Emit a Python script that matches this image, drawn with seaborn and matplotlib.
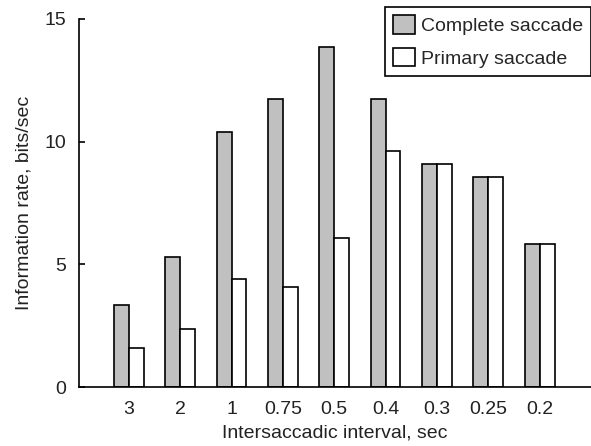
import matplotlib
matplotlib.use("Agg")
import matplotlib.pyplot as plt
import seaborn as sns
import pandas as pd

intervals = ["3", "2", "1", "0.75", "0.5", "0.4", "0.3", "0.25", "0.2"]
complete = [3.34, 5.29, 10.38, 11.74, 13.87, 11.74, 9.09, 8.56, 5.84]
primary = [1.58, 2.35, 4.39, 4.08, 6.06, 9.63, 9.09, 8.56, 5.84]
series = ["Complete saccade", "Primary saccade"]
y_ticks = [0, 5, 10, 15]

df = pd.DataFrame({
    "interval": intervals * 2,
    "rate": complete + primary,
    "series": [series[0]] * len(intervals) + [series[1]] * len(intervals),
})

sns.set_theme(style="white")
plt.rcParams["font.family"] = ["Liberation Sans", "DejaVu Sans"]
fs = 14

fig = plt.figure(figsize=(5.91, 4.46), dpi=100)
ax = fig.add_axes([79 / 591, 1 - 387 / 446, 1 - 79 / 591, (387 - 19) / 446])

sns.barplot(data=df, x="interval", y="rate", hue="series", order=intervals,
            hue_order=series, palette=["#c0c0c0", "#ffffff"], width=0.58,
            edgecolor="black", linewidth=1.2, saturation=1, ax=ax, gap=0)

ax.set_xlim(-0.97, 9.0)
ax.set_ylim(0, 15)
ax.set_yticks(y_ticks)
ax.set_yticklabels([str(t) for t in y_ticks], fontsize=fs)
ax.tick_params(axis="y", direction="in", length=4, width=1.2, colors="black",
               labelcolor="#222222", pad=9, left=True)
ax.tick_params(axis="x", length=0, labelsize=fs, labelcolor="#222222", pad=10)
ax.set_xlabel("Intersaccadic interval, sec", fontsize=fs, color="#222222", labelpad=5)
ax.set_ylabel("Information rate, bits/sec", fontsize=fs, color="#222222", labelpad=9)

for s in ["top", "right"]:
    ax.spines[s].set_visible(False)
for s in ["left", "bottom"]:
    ax.spines[s].set_color("black")
    ax.spines[s].set_linewidth(1.2)

ax.legend_.remove()
leg = fig.legend(*ax.get_legend_handles_labels(), loc="upper right",
                 bbox_to_anchor=(1.0, 1 - 7 / 446), bbox_transform=fig.transFigure,
                 fontsize=fs, frameon=True, fancybox=False, edgecolor="black",
                 framealpha=1, borderaxespad=0, handlelength=1.1, handleheight=1.1,
                 handletextpad=0.3, borderpad=0.42, labelspacing=0.65)
leg.get_frame().set_linewidth(1.2)

fig.savefig("out.png", dpi=100)
